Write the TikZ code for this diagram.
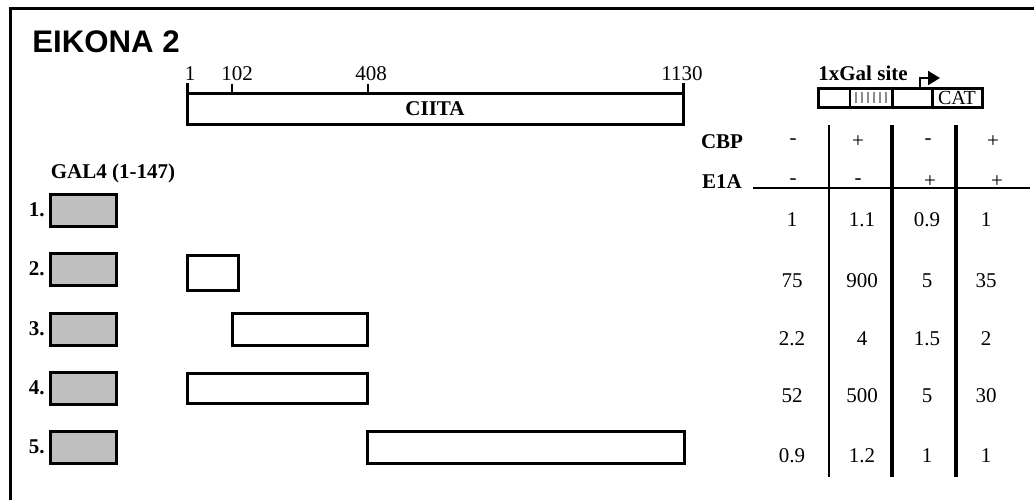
\documentclass[tikz,border=0pt]{standalone}
\usepackage{fontspec}
\setmainfont{Liberation Serif}
\newfontfamily\headfont{Liberation Sans}
\usetikzlibrary{arrows.meta}

\begin{document}
\begin{tikzpicture}[
    x=0.5pt, y=-0.5pt,
    frame/.style={line width=1.5pt},
    galbox/.style={
        draw,
        line width=1.5pt,
        fill=black!25
    },
    segbox/.style={draw, line width=1.5pt, fill=white},
    tick/.style={line width=0.8pt},
    lbl/.style={font=\fontsize{10.5}{12}\selectfont\bfseries, inner sep=0pt},
    num/.style={font=\fontsize{10.5}{12}\selectfont, inner sep=0pt},
    colsep/.style={line width=0.8pt},
    bigsep/.style={line width=1.6pt}
]
\useasboundingbox (0,0) rectangle (1034,500);

% frame and title
\draw[frame] (10,500) -- (10,8) -- (1034,8);
\node[anchor=base west, inner sep=0pt, font=\headfont\fontsize{15.6}{18}\selectfont\bfseries] (title) at (32,52) {EIKONA 2};

% CIITA scale
\draw[segbox] (187,93) rectangle (683,124);
\draw[frame] (187,83) -- (187,93);
\draw[frame] (683,83) -- (683,93);
\draw[tick] (232,84) -- (232,93);
\draw[tick] (368,84) -- (368,93);
\node[num, anchor=base] (p1) at (190,80) {1};
\node[num, anchor=base] (p102) at (237,80) {102};
\node[num, anchor=base] (p408) at (371,80) {408};
\node[num, anchor=base] (p1130) at (682,80) {1130};
\node[lbl] (ciita) at (435,109) {CIITA};

% GAL4 fusions
\node[lbl] (gal) at (113,173) {GAL4 (1-147)};
\foreach \i/\y in {1/210, 2/269, 3/329, 4/388, 5/447} {
    \node[lbl, anchor=east] (row\i) at (45,\y) {\i.};
    \draw[galbox] (50,\y-16) rectangle (116,\y+16);
}
\draw[segbox] (187,255) rectangle (238,290);
\draw[segbox] (232,313) rectangle (367,345);
\draw[segbox] (187,373) rectangle (367,403);
\draw[segbox] (367,431) rectangle (684,463);

% reporter
\node[lbl, anchor=west] (site) at (818,73) {1xGal site};
\draw[segbox] (818,88) rectangle (982,107);
\draw[colsep] (850,88) -- (850,107);
\draw[frame] (892,88) -- (892,107);
\draw[frame] (932,88) -- (932,107);
\foreach \x in {856,862,...,886}
    \draw[black!45, line width=0.9pt] (\x,92) -- (\x,103);
\node[num, font=\fontsize{10}{12}\selectfont] (cat) at (957,98) {CAT};
\coordinate (tss) at (920,88);
\draw[line width=1pt, -{Triangle[length=6pt,width=7pt]}] (tss) -- ++(0,-10) -- ++(20,0);

% table
\node[lbl] (cbp) at (722,142) {CBP};
\node[lbl] (e1a) at (722,182) {E1A};
\foreach \s/\x in {-/793, +/858, -/928, +/993}
    \node[num] at (\x,142) {\s};
\foreach \s/\x in {-/793, -/858, +/930, +/997}
    \node[num] at (\x,182) {\s};
\draw[colsep] (753,188) -- (1030,188);
\draw[colsep] (829,125) -- (829,477);
\draw[bigsep] (892,125) -- (892,477);
\draw[bigsep] (956,125) -- (956,477);

\foreach \r/\y/\a/\b/\c/\d in {1/220/1/1.1/0.9/1, 2/281/75/900/5/35, 3/339/2.2/4/1.5/2, 4/396/52/500/5/30, 5/456/0.9/1.2/1/1} {
    \node[num] (v\r a) at (792,\y) {\a};
    \node[num] (v\r b) at (862,\y) {\b};
    \node[num] (v\r c) at (927,\y) {\c};
    \node[num] (v\r d) at (986,\y) {\d};
}

\end{tikzpicture}
\end{document}
